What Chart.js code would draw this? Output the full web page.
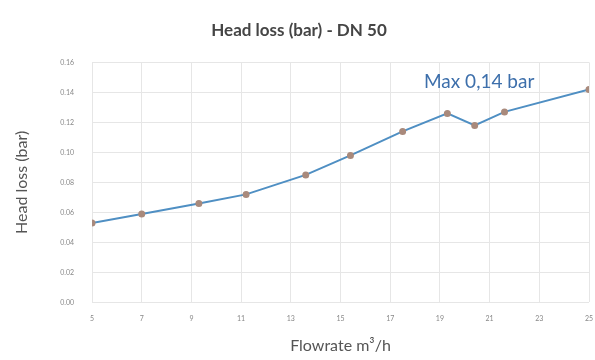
<!DOCTYPE html>
<html>
<head>
<meta charset="utf-8">
<script src="https://cdn.jsdelivr.net/npm/chart.js@4/dist/chart.umd.min.js"></script>
<style>
  html, body { margin: 0; padding: 0; background: #fff; }
  #wrap { width: 595px; height: 360px; position: relative; }
</style>
</head>
<body>
<div id="wrap"><canvas id="chart"></canvas></div>
<script>
// flowrate (m3/h) vs head loss (bar)
const flowrate = [5, 7, 9.3, 11.2, 13.6, 15.4, 17.5, 19.3, 20.4, 21.6, 25];
const headLoss = [0.053, 0.059, 0.066, 0.072, 0.085, 0.098, 0.114, 0.126, 0.118, 0.127, 0.142];
const xTicks = [5, 7, 9, 11, 13, 15, 17, 19, 21, 23, 25];
const yTicks = [0, 0.02, 0.04, 0.06, 0.08, 0.10, 0.12, 0.14, 0.16];
const noteText = 'Max 0,14 bar';
const notePos = { x: 20.58, y: 0.147 };

const points = flowrate.map((x, i) => ({ x, y: headLoss[i] }));

/* note above the curve, placed via scales */
const notePlugin = {
  id: 'note',
  afterDatasetsDraw(chart) {
    const { ctx, scales } = chart;
    ctx.save();
    ctx.font = '19px Lato';
    ctx.fillStyle = '#3d6fab';
    ctx.textAlign = 'center';
    ctx.textBaseline = 'middle';
    ctx.fillText(noteText, scales.x.getPixelForValue(notePos.x), scales.y.getPixelForValue(notePos.y));
    ctx.restore();
  }
};

new Chart(document.getElementById('chart'), {
  type: 'line',
  data: {
    datasets: [{
      data: points,
      borderColor: '#4f8fc3',
      borderWidth: 2,
      pointRadius: 2.5,
      pointBackgroundColor: '#a98a7c',
      pointBorderColor: '#a98a7c',
      tension: 0
    }]
  },
  plugins: [notePlugin],
  options: {
    responsive: true,
    maintainAspectRatio: false,
    animation: false,
    layout: { padding: { left: 8, right: 5, top: 10, bottom: 1 } },
    plugins: {
      legend: { display: false },
      tooltip: { enabled: false },
      title: {
        display: true,
        text: 'Head loss (bar) - DN 50',
        color: '#454545',
        font: { family: 'Lato', size: 17, weight: 'bold' },
        padding: { top: 10, bottom: 22 }
      }
    },
    scales: {
      x: {
        type: 'linear',
        min: 5,
        max: 25,
        afterBuildTicks: s => { s.ticks = xTicks.map(v => ({ value: v })); },
        afterFit: s => { s.paddingRight = 0; s.paddingLeft = 0; },
        grid: { color: '#e6e6e6', drawTicks: false },
        border: { display: false },
        ticks: {
          color: '#888',
          padding: 12,
          font: { family: 'Lato', size: 7 },
          maxRotation: 0
        },
        title: {
          display: true,
          text: 'Flowrate m³/h',
          color: '#555',
          font: { family: 'Lato', size: 16 },
          padding: { top: 1 }
        }
      },
      y: {
        min: 0,
        max: 0.16,
        afterBuildTicks: s => { s.ticks = yTicks.map(v => ({ value: v })); },
        grid: { color: '#e6e6e6', drawTicks: false },
        border: { display: false },
        ticks: {
          color: '#888',
          padding: 18,
          font: { family: 'Lato', size: 7 },
          callback: v => v.toFixed(2)
        },
        title: {
          display: true,
          text: 'Head loss (bar)',
          color: '#555',
          font: { family: 'Lato', size: 16 },
          padding: { bottom: 11 }
        }
      }
    }
  }
});
</script>
</body>
</html>
